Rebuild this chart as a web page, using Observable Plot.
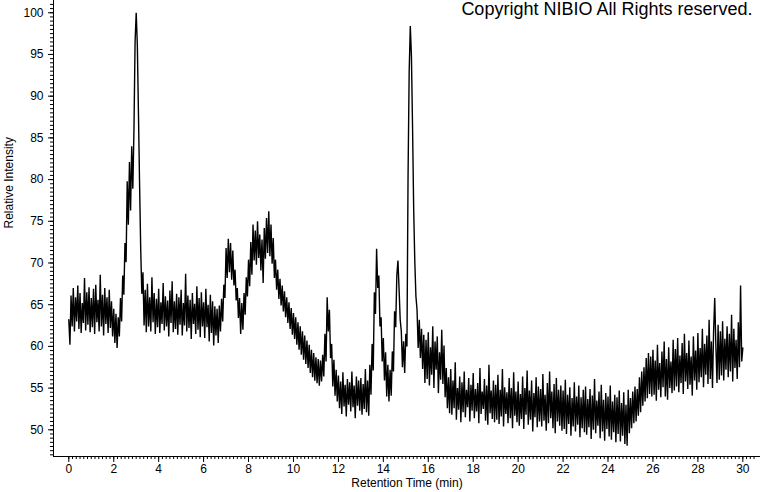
<!DOCTYPE html>
<html>
<head>
<meta charset="utf-8">
<script src="https://cdn.jsdelivr.net/npm/d3@7"></script>
<script src="https://cdn.jsdelivr.net/npm/@observablehq/plot@0.6"></script>
<style>
  html, body { margin: 0; padding: 0; background: #fff; }
  #chart { width: 760px; height: 492px; }
</style>
</head>
<body>
<div id="chart"></div>
<script>
// Retention time sampling (minutes)
const startTime = 0;
const stepMin = 0.05;

// Relative intensity, one row per minute (20 samples each)
const intensity = [
  63.2,60.2,66.1,62.4,67.0,61.8,65.9,63.0,67.3,62.1,66.4,61.6,65.2,62.8,68.2,61.9,66.5,62.6,67.1,61.7,
  65.8,62.3,66.9,61.5,67.4,62.9,65.6,61.8,68.6,62.4,66.2,61.3,67.0,62.7,65.9,61.6,66.8,62.2,65.4,61.2,
  64.5,60.4,63.9,59.8,63.5,61.2,65.8,63.0,68.5,66.2,72.4,70.1,79.8,74.6,82.1,76.3,84.0,78.9,86.0,96.5,
  100.0,96.2,88.0,79.5,71.8,66.3,68.9,62.5,66.8,61.7,67.5,62.4,65.9,61.8,68.3,62.9,66.4,61.5,65.7,62.3,
  66.9,61.6,65.3,62.7,67.6,61.9,66.0,62.4,65.5,61.2,66.7,62.8,67.8,61.7,65.4,62.1,66.3,61.4,65.9,62.6,
  66.8,61.3,65.2,62.5,68.7,61.8,66.1,62.2,65.6,60.9,66.4,62.7,65.1,61.5,67.2,62.0,65.8,61.1,66.5,62.4,
  65.3,61.0,66.9,62.3,65.0,60.6,66.2,61.6,65.4,60.1,64.8,61.3,64.5,60.4,64.9,61.8,65.7,63.0,67.4,65.8,
  71.8,68.2,72.9,68.9,72.4,68.0,71.5,67.3,69.2,65.5,67.0,63.4,65.8,61.5,65.2,62.0,66.4,63.8,68.3,66.0,
  70.4,67.2,72.5,68.6,74.6,70.3,73.9,69.8,75.0,70.6,73.4,69.1,72.8,67.6,74.2,70.5,75.4,71.2,76.2,70.8,
  74.6,69.9,73.0,68.2,70.4,66.8,69.2,65.7,68.1,64.9,67.3,64.2,66.6,63.5,65.9,62.8,65.3,62.1,64.6,61.4,
  64.0,60.9,63.5,60.2,62.9,59.6,62.4,59.0,61.8,58.4,61.3,57.9,60.7,57.4,60.2,56.8,59.6,56.3,59.2,55.9,
  58.7,55.6,58.5,55.3,58.3,55.8,59.0,56.4,61.5,58.2,65.9,61.8,64.4,58.6,60.3,55.2,58.4,54.1,57.2,53.4,
  56.5,52.6,55.8,51.9,56.9,52.8,55.4,51.6,56.1,53.0,55.7,52.2,57.0,52.7,55.3,51.4,56.4,52.9,55.9,52.3,
  56.2,51.8,55.5,52.5,57.3,52.1,55.9,51.7,57.8,54.2,60.3,57.1,66.5,63.9,71.7,67.0,68.5,62.4,63.5,58.2,
  61.0,55.9,59.3,54.0,57.8,53.4,57.2,54.1,59.4,57.0,64.2,62.3,68.5,70.3,66.9,63.2,61.8,57.5,60.6,56.8,
  61.5,60.0,80.5,93.0,98.4,94.8,86.3,76.5,70.2,66.0,64.4,59.8,63.2,58.6,62.1,57.3,61.4,55.6,60.8,56.1,
  61.7,55.3,59.9,56.6,62.4,55.0,60.6,57.2,61.2,54.4,59.3,56.0,62.0,55.5,60.1,53.9,57.4,52.6,56.3,52.0,
  57.3,51.8,55.9,52.6,58.1,51.2,55.0,52.4,56.4,50.9,55.7,52.1,57.0,51.5,54.8,52.7,56.2,51.0,55.4,52.3,
  56.8,51.4,54.9,52.2,55.6,50.8,57.4,51.9,54.6,52.5,56.1,51.1,55.3,50.6,57.8,52.0,54.7,51.3,55.9,50.9,
  55.4,51.2,56.6,50.7,54.8,51.6,57.3,50.4,55.1,51.9,54.5,50.8,56.2,51.4,55.0,50.2,56.9,51.7,54.6,50.9,
  55.8,50.5,54.3,51.3,56.4,50.1,55.0,51.8,57.1,50.6,54.7,51.2,55.9,49.8,54.4,51.5,56.3,50.3,55.2,51.0,
  54.9,50.4,56.7,51.1,54.2,49.9,55.6,50.8,57.0,51.4,54.6,50.2,55.5,49.6,56.2,51.0,54.8,50.5,55.3,49.9,
  54.7,50.1,56.0,49.5,54.2,50.7,55.1,49.3,53.8,50.4,55.7,49.8,54.0,50.6,55.3,49.1,53.9,50.2,54.8,49.7,
  55.2,49.4,53.7,50.3,54.9,48.9,54.1,50.0,56.1,49.6,53.5,50.5,54.6,49.0,55.4,49.8,53.6,48.7,54.4,50.1,
  54.0,49.2,55.3,48.8,53.4,49.7,54.2,48.5,53.9,49.5,54.7,48.6,53.2,49.3,54.5,48.3,53.0,48.1,54.8,49.6,
  53.8,50.2,54.6,50.8,55.2,51.0,54.9,51.7,56.3,52.1,57.0,52.9,57.5,53.4,58.6,53.8,59.2,54.3,58.8,54.0,
  59.6,54.2,58.3,53.5,60.2,54.8,58.0,53.9,59.4,55.1,60.6,54.0,58.5,53.6,59.9,55.0,58.2,54.4,60.8,54.7,
  59.7,55.2,61.0,54.5,58.9,55.6,60.4,54.3,61.5,55.8,59.2,54.9,60.7,55.4,58.8,54.1,61.2,55.9,59.5,54.8,
  61.6,55.7,59.8,56.3,62.1,55.1,60.3,56.6,61.3,55.5,63.2,56.1,60.6,55.0,61.9,65.8,60.1,55.6,62.6,56.0,
  61.8,56.5,63.0,55.9,60.9,57.2,62.4,56.3,61.5,57.0,63.8,55.8,62.1,57.4,60.8,56.1,62.9,57.5,67.3,58.2,
  59.8
];

// Axis ticks and labels
const xMajorTicks = [0,2,4,6,8,10,12,14,16,18,20,22,24,26,28,30];
const yMajorTicks = [50,55,60,65,70,75,80,85,90,95,100];
const xTitle = "Retention Time (min)";
const yTitle = "Relative Intensity";
const copyright = "Copyright NIBIO All Rights reserved.";

const xDomain = [-0.681, 30.787];
const yDomain = [46.8, 101.47];

const xMinorTicks = d3.range(0, 30 * 6 + 4).map(i => i / 6).filter(v => v <= xDomain[1]);
const yMinorTicks = d3.range(47 * 2, 101 * 2 + 1).map(i => i / 2);

const data = intensity.map((v, i) => ({t: +(startTime + i * stepMin).toFixed(2), v}));

const chart = Plot.plot({
  width: 760,
  height: 492,
  marginLeft: 53,
  marginRight: 0,
  marginTop: 0,
  marginBottom: 36,
  style: {fontFamily: "'Liberation Sans', Arial, sans-serif", fontSize: "12px", color: "#000", background: "#fff"},
  x: {domain: xDomain},
  y: {domain: yDomain},
  marks: [
    Plot.axisY(yMinorTicks, {tickSize: 3, tickFormat: () => "", label: null}),
    Plot.axisY(yMajorTicks, {tickSize: 5, tickPadding: 5, label: null, fontSize: 12}),
    Plot.axisX(xMinorTicks, {tickSize: 3, tickFormat: () => "", label: null}),
    Plot.axisX(xMajorTicks, {tickSize: 6, tickPadding: 2, label: null, fontSize: 12}),
    Plot.ruleX([xDomain[0]], {stroke: "#000"}),
    Plot.ruleY([yDomain[0]], {stroke: "#000"}),
    Plot.line(data, {x: "t", y: "v", stroke: "#000", strokeWidth: 1.4, strokeLinejoin: "miter", strokeMiterlimit: 2}),
    Plot.text([yTitle], {frameAnchor: "left", rotate: -90, dx: -44, fontSize: 12, fill: "#000"}),
    Plot.text([xTitle], {frameAnchor: "bottom", dy: 30, fontSize: 12, fill: "#000"}),
    Plot.text([copyright], {frameAnchor: "top-right", dx: -8, dy: 2, textAnchor: "end", lineAnchor: "top", fontSize: 18, fill: "#000"})
  ]
});
document.getElementById("chart").appendChild(chart);
</script>
</body>
</html>
